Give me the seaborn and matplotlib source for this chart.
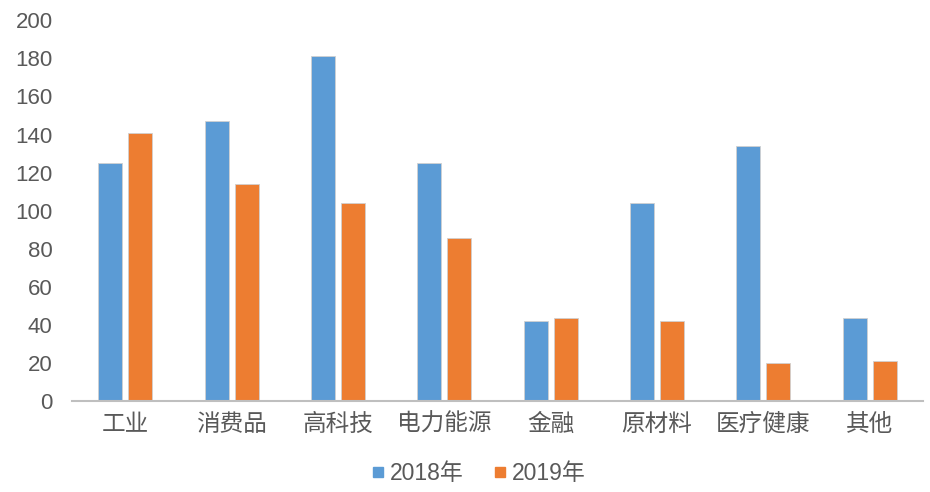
import matplotlib
matplotlib.use("Agg")
import matplotlib.pyplot as plt
import seaborn as sns
import pandas as pd
from matplotlib.lines import Line2D

categories = ["工业", "消费品", "高科技", "电力能源", "金融", "原材料", "医疗健康", "其他"]
series_names = ["2018年", "2019年"]
values_2018 = [125, 147, 181, 125, 42, 104, 134, 44]
values_2019 = [141, 114, 104, 86, 44, 42, 20, 21]
y_ticks = [0, 20, 40, 60, 80, 100, 120, 140, 160, 180, 200]

sns.set_theme(style="white")
plt.rcParams["font.family"] = ["Liberation Sans", "Noto Sans CJK SC", "DejaVu Sans"]

df = pd.DataFrame({
    "category": categories * 2,
    "series": [series_names[0]] * len(categories) + [series_names[1]] * len(categories),
    "value": values_2018 + values_2019,
})

colors = ["#5B9BD5", "#ED7D31"]
fig = plt.figure(figsize=(9.3, 4.92), dpi=100)
ax = fig.add_axes([0.0774, 0.184, 0.9151, 0.775])

sns.barplot(data=df, x="category", y="value", hue="series", order=categories,
            hue_order=series_names, palette=colors, width=0.564, gap=0.2,
            saturation=1, edgecolor="#d0d0d0", linewidth=0.6, ax=ax, legend=False)

ax.set_ylim(0, 200)
ax.set_xlim(-0.5, len(categories) - 0.5)
ax.set_yticks(y_ticks)
ax.set_xlabel("")
ax.set_ylabel("")
for s in ["top", "right", "left"]:
    ax.spines[s].set_visible(False)
ax.spines["bottom"].set_color("#BFBFBF")
ax.spines["bottom"].set_linewidth(1.5)
ax.tick_params(axis="y", length=0, pad=14, labelsize=16, labelcolor="#595959")
ax.tick_params(axis="x", length=0, pad=9, labelsize=17, labelcolor="#595959")

handles = [Line2D([], [], marker="s", linestyle="none", markersize=7,
                  markerfacecolor=c, markeredgecolor=c) for c in colors]
fig.legend(handles, series_names, loc="center", bbox_to_anchor=(0.513, 0.037),
           ncol=2, frameon=False, fontsize=16.5, labelcolor="#595959",
           handletextpad=0.1, columnspacing=1.2, handlelength=0.8)

fig.savefig("out.png", dpi=100)
